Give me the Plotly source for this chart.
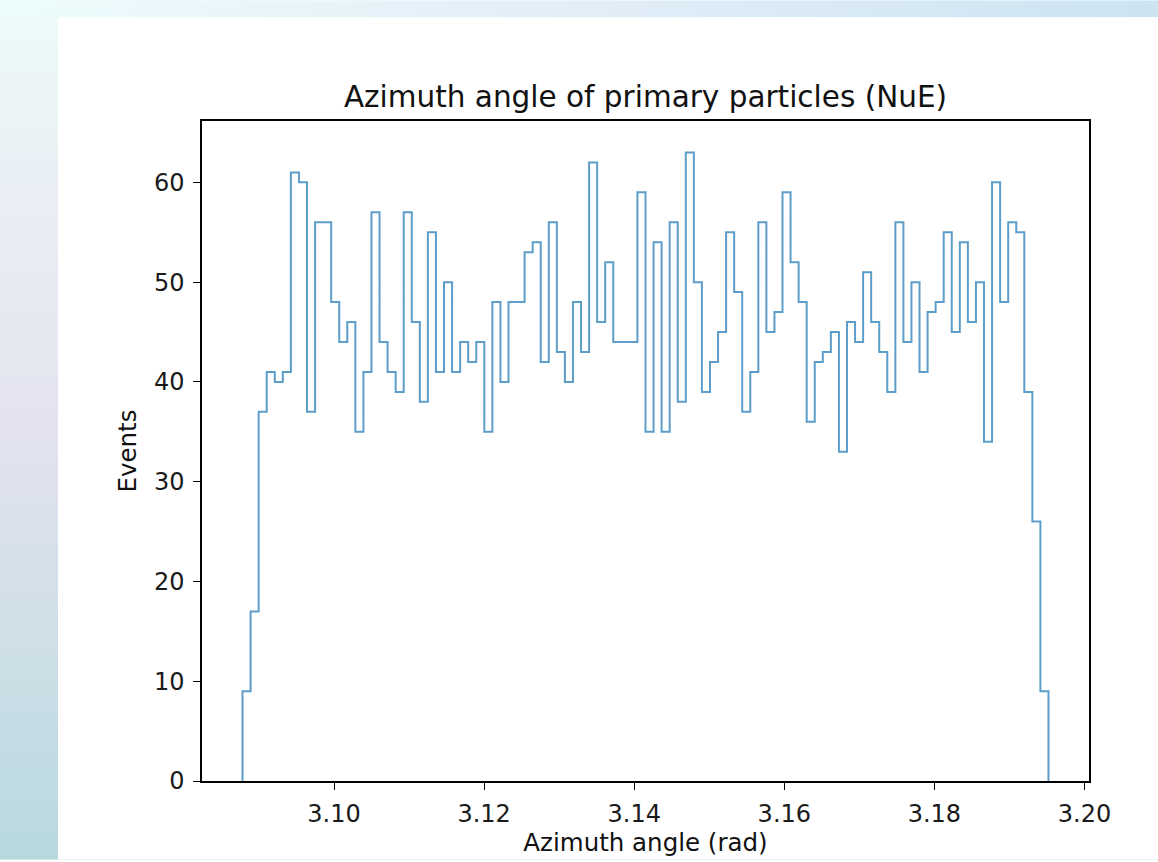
import base64
import numpy as np
import plotly.graph_objects as go

# ---------------- data ----------------
title_text = "Azimuth angle of primary particles (NuE)"
x_label = "Azimuth angle (rad)"
y_label = "Events"

bin_low = 3.0878
bin_high = 3.1952
counts = [9, 17, 37, 41, 40, 41, 61, 60, 37, 56,
          56, 48, 44, 46, 35, 41, 57, 44, 41, 39,
          57, 46, 38, 55, 41, 50, 41, 44, 42, 44,
          35, 48, 40, 48, 48, 53, 54, 42, 56, 43,
          40, 48, 43, 62, 46, 52, 44, 44, 44, 59,
          35, 54, 35, 56, 38, 63, 50, 39, 42, 45,
          55, 49, 37, 41, 56, 45, 47, 59, 52, 48,
          36, 42, 43, 45, 33, 46, 44, 51, 46, 43,
          39, 56, 44, 50, 41, 47, 48, 55, 45, 54,
          46, 50, 34, 60, 48, 56, 55, 39, 26, 9]
x_ticks = [3.10, 3.12, 3.14, 3.16, 3.18, 3.20]
x_tick_labels = ["3.10", "3.12", "3.14", "3.16", "3.18", "3.20"]
y_ticks = [0, 10, 20, 30, 40, 50, 60]

# ---------------- figure ----------------
W, H = 1158, 862
ML, MR, MT, MB = 202, 69, 121, 79
PW, PH = W - ML - MR, H - MT - MB

edges = np.linspace(bin_low, bin_high, len(counts) + 1)
step_x = [edges[0]] + list(edges)
step_y = [0] + list(counts) + [0]

fig = go.Figure()
fig.add_trace(go.Scatter(
    x=step_x, y=step_y, mode="lines", line_shape="hv",
    line=dict(color="rgba(31,119,180,0.72)", width=2),
    hoverinfo="skip", showlegend=False,
))

# background (page gradient + white card)
svg = f'''<svg xmlns="http://www.w3.org/2000/svg" width="{W}" height="{H}" viewBox="0 0 {W} {H}" preserveAspectRatio="none">
<defs>
<linearGradient id="top" x1="0" y1="0" x2="1" y2="0">
<stop offset="0" stop-color="#edfcfc"/>
<stop offset="0.5" stop-color="#e2eef8"/>
<stop offset="1" stop-color="#cce4f2"/>
</linearGradient>
<linearGradient id="left" x1="0" y1="0" x2="0" y2="1">
<stop offset="0" stop-color="#edfafa"/>
<stop offset="0.25" stop-color="#e9eef4"/>
<stop offset="0.5" stop-color="#e3e3ef"/>
<stop offset="0.75" stop-color="#cedfe7"/>
<stop offset="1" stop-color="#b8d8e0"/>
</linearGradient>
</defs>
<rect x="0" y="0" width="{W}" height="{H}" fill="url(#left)"/>
<rect x="0" y="0" width="{W}" height="17" fill="url(#top)"/>
<rect x="58" y="17" width="{W-58}" height="{H-17}" fill="#ffffff"/>
</svg>'''
src = "data:image/svg+xml;base64," + base64.b64encode(svg.encode()).decode()

fig.add_layout_image(dict(
    source=src, xref="paper", yref="paper",
    x=-ML / PW, y=1 + MT / PH, sizex=W / PW, sizey=H / PH,
    xanchor="left", yanchor="top", sizing="stretch", layer="below",
))

font_family = "DejaVu Sans"
axis_common = dict(
    showline=True, mirror=True, linecolor="black", linewidth=1.5,
    ticks="outside", ticklen=7, tickwidth=1.4, tickcolor="black",
    showgrid=False, zeroline=False,
    tickfont=dict(family=font_family, size=24, color="#1a1a1a"),
)

fig.update_layout(
    width=W, height=H,
    margin=dict(l=ML, r=MR, t=MT, b=MB),
    paper_bgcolor="white", plot_bgcolor="rgba(0,0,0,0)",
    title=dict(text=title_text, x=(ML + PW / 2) / W, xanchor="center",
               y=1 - 97 / H, yanchor="middle", yref="container",
               font=dict(family=font_family, size=29.5, color="#111111")),
    xaxis=dict(range=[3.0824, 3.2006], tickvals=x_ticks, ticktext=x_tick_labels,
               title=dict(text=x_label, standoff=5,
                          font=dict(family=font_family, size=24.5, color="#111111")),
               ticklabelstandoff=3, **axis_common),
    yaxis=dict(range=[0, 66.15], tickvals=y_ticks,
               title=dict(text=y_label, standoff=10,
                          font=dict(family=font_family, size=24.5, color="#111111")),
               ticklabelstandoff=4, **axis_common),
)

fig.write_html("out.html")
